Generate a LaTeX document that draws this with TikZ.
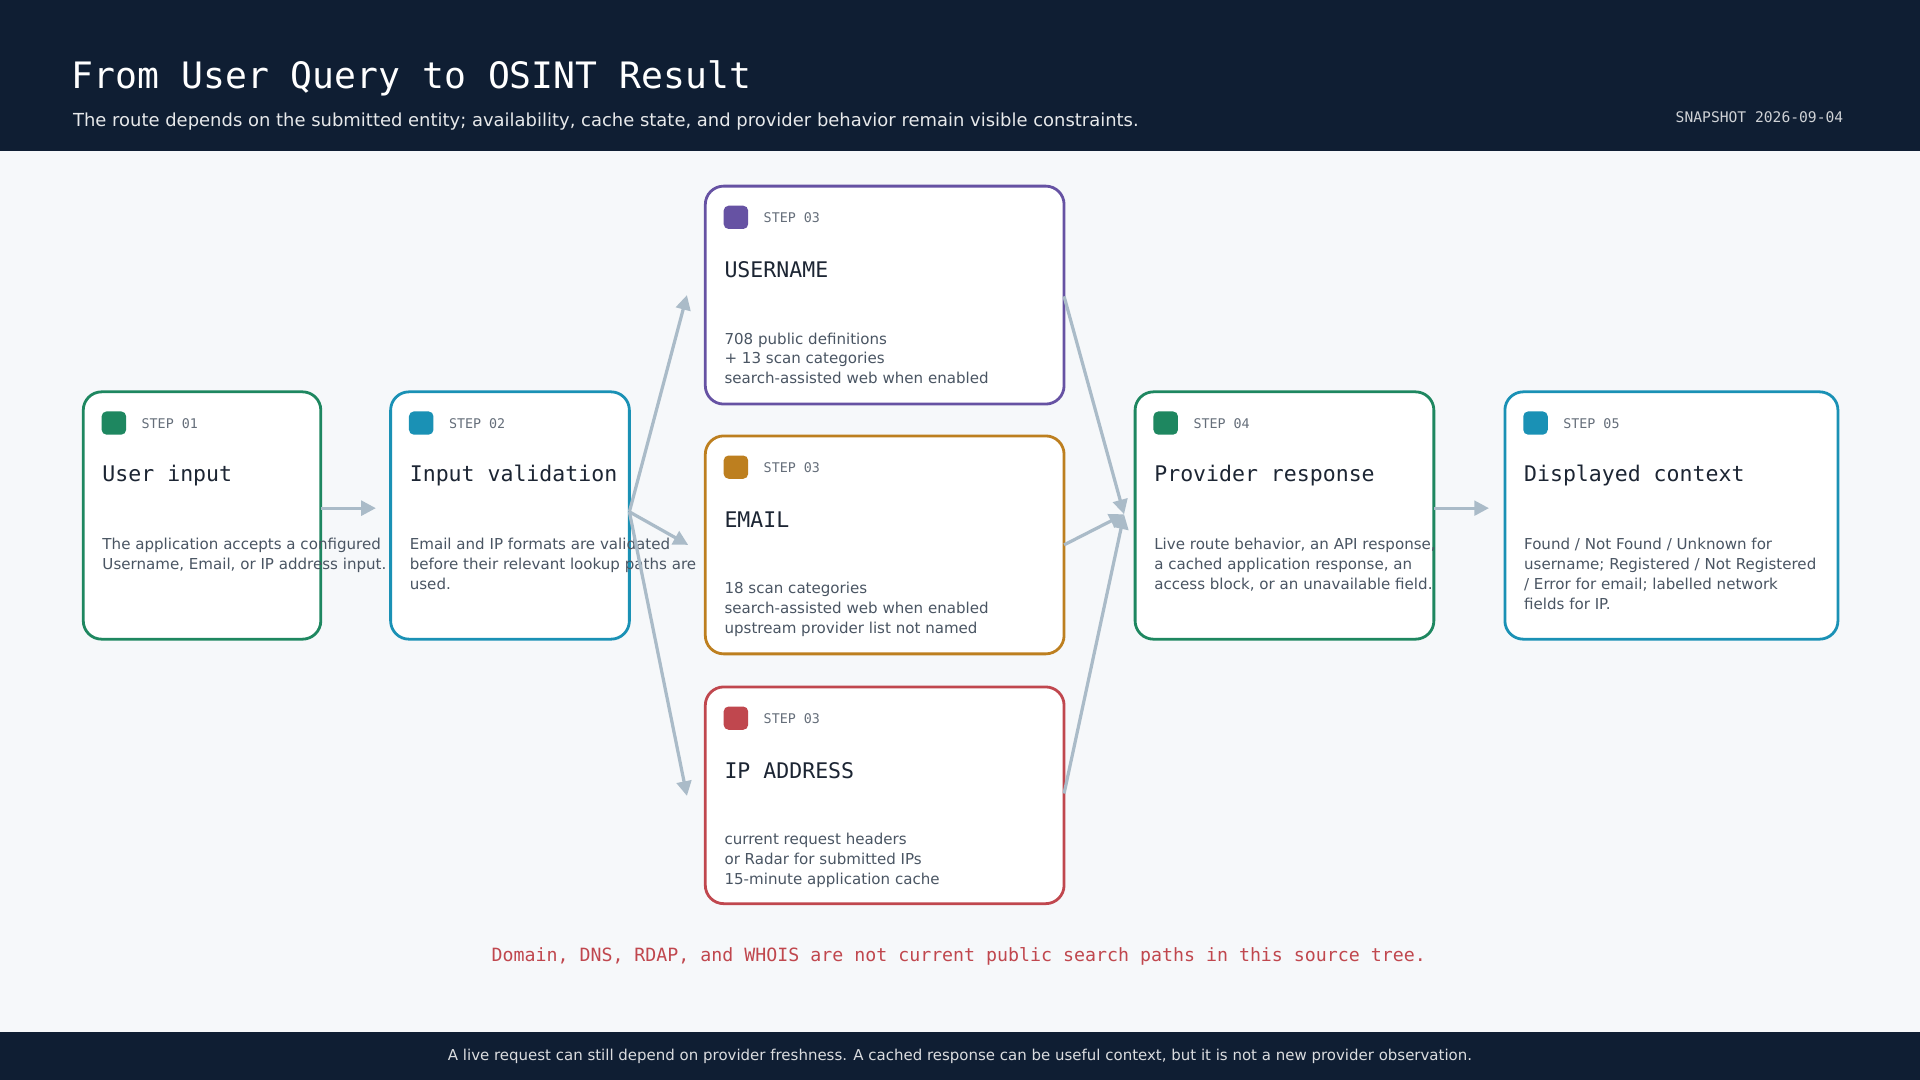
\documentclass[tikz,border=0pt]{standalone}
\usepackage{fontspec}
\setmainfont{DejaVu Sans}
\newfontfamily\mono{DejaVu Sans Mono}
\usetikzlibrary{arrows.meta}
\definecolor{navy}{HTML}{0F1E33}
\definecolor{bgc}{HTML}{F6F8FA}
\definecolor{cgreen}{HTML}{1E8760}
\definecolor{cblue}{HTML}{1A91B5}
\definecolor{cpurple}{HTML}{6652A3}
\definecolor{corange}{HTML}{BD7F1F}
\definecolor{cred}{HTML}{C0474E}
\definecolor{arr}{HTML}{AABBC8}
\definecolor{txt}{HTML}{4A5563}
\definecolor{ttl}{HTML}{1C2533}
\tikzset{
 every node/.style={inner sep=0},
 card/.style={draw=#1, line width=0.65pt, fill=white, rounded corners=1.5mm},
 icon/.style={fill=#1, rounded corners=0.4mm},
 steplbl/.style={anchor=west, font=\mono\fontsize{3.1}{4}\selectfont, text=txt!85},
 ctitle/.style={anchor=west, font=\mono\fontsize{5}{6}\selectfont, text=ttl},
 body/.style={anchor=north west, align=left, font=\fontsize{3.5}{4.6}\selectfont, text=txt},
 flow/.style={draw=arr, line width=0.75pt, -{Triangle[length=1.2mm,width=1.2mm]}},
}
\newcommand\mkcard[8]{% name,color,x1,y1,x2,y2,title,body
 \draw[card=#2] (#3,-#4) rectangle (#5,-#6);
 \node (#1) at ({(#3+#5)/2},{-(#4+#6)/2}) {};
 \fill[icon=#2] (#3+15,-#4-16) rectangle (#3+35,-#4-35);
 \node[steplbl] (#1s) at (#3+47,-#4-26) {STEP 0\stepnum};
 \node[ctitle] (#1t) at (#3+15,-#4-68) {#7};
 \node[body] (#1b) at (#3+15,-#4-119) {#8};
}
\newcommand\stepnum{1}
\begin{document}
\begin{tikzpicture}[x=0.01cm,y=0.01cm]
\fill[bgc] (0,0) rectangle (1568,-882);
\useasboundingbox (0,0) rectangle (1568,-882);
\fill[navy] (0,0) rectangle (1568,-123);
\fill[navy] (0,-843) rectangle (1568,-882);
\node[anchor=west, text=white, font=\mono\fontsize{8.45}{10}\selectfont] (title) at (58,-64) {From User Query to OSINT Result};
\node[anchor=west, text=white!90!navy, font=\fontsize{4.17}{5}\selectfont] (sub) at (59,-99) {The route depends on the submitted entity; availability, cache state, and provider behavior remain visible constraints.};
\node[anchor=east, text=white!80!navy, font=\mono\fontsize{3.4}{4}\selectfont] (snap) at (1506,-96) {SNAPSHOT 2026-09-04};
\node[text=white!85!navy, font=\fontsize{3.48}{4.5}\selectfont] (foot) at (784,-863) {A live request can still depend on provider freshness. A cached response can be useful context, but it is not a new provider observation.};
\node[text=cred, font=\mono\fontsize{4.24}{5}\selectfont] (note) at (783,-781) {Domain, DNS, RDAP, and WHOIS are not current public search paths in this source tree.};

\renewcommand\stepnum{1}
\mkcard{c1}{cgreen}{68}{320}{262}{522}{User input}{The application accepts a configured\\Username, Email, or IP address input.}
\renewcommand\stepnum{2}
\mkcard{c2}{cblue}{319}{320}{514}{522}{Input validation}{Email and IP formats are validated\\before their relevant lookup paths are\\used.}
\renewcommand\stepnum{3}
\mkcard{cu}{cpurple}{576}{152}{869}{330}{USERNAME}{708 public definitions\\+ 13 scan categories\\search-assisted web when enabled}
\mkcard{ce}{corange}{576}{356}{869}{534}{EMAIL}{18 scan categories\\search-assisted web when enabled\\upstream provider list not named}
\mkcard{ci}{cred}{576}{561}{869}{738}{IP ADDRESS}{current request headers\\or Radar for submitted IPs\\15-minute application cache}
\renewcommand\stepnum{4}
\mkcard{c4}{cgreen}{927}{320}{1171}{522}{Provider response}{Live route behavior, an API response,\\a cached application response, an\\access block, or an unavailable field.}
\renewcommand\stepnum{5}
\mkcard{c5}{cblue}{1229}{320}{1501}{522}{Displayed context}{Found / Not Found / Unknown for\\username; Registered / Not Registered\\/ Error for email; labelled network\\fields for IP.}

\coordinate (a1s) at (262,-415); \coordinate (a1e) at (307,-415);
\coordinate (v) at (514,-418);
\coordinate (tu) at (561,-241); \coordinate (te) at (562,-445); \coordinate (ti) at (561,-650);
\coordinate (fu) at (869,-242); \coordinate (fe) at (869,-445); \coordinate (fi) at (869,-648);
\coordinate (p) at (918,-420);
\coordinate (a5s) at (1171,-415); \coordinate (a5e) at (1216,-415);
\draw[flow] (a1s) -- (a1e);
\draw[flow] (v) -- (tu);
\draw[flow] (v) -- (te);
\draw[flow] (v) -- (ti);
\draw[flow] (fu) -- (p);
\draw[flow] (fe) -- (p);
\draw[flow] (fi) -- (p);
\draw[flow] (a5s) -- (a5e);
\end{tikzpicture}
\end{document}
